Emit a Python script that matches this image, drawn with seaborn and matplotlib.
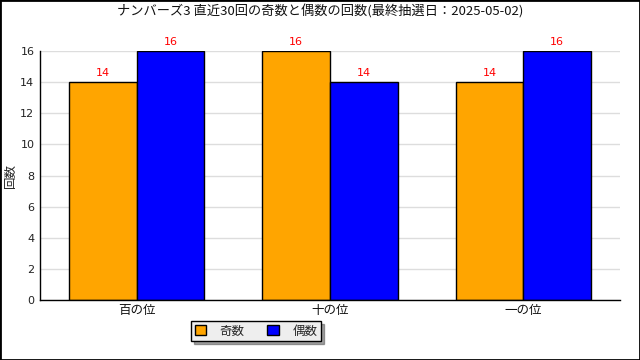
import matplotlib
matplotlib.use("Agg")
import matplotlib.pyplot as plt
import seaborn as sns
import pandas as pd
from matplotlib.patches import Patch, Rectangle

categories = ["百の位", "十の位", "一の位"]
series = ["奇数", "偶数"]
odd_counts = [14, 16, 14]
even_counts = [16, 14, 16]
yticks = [0, 2, 4, 6, 8, 10, 12, 14, 16]
title = "ナンバーズ3 直近30回の奇数と偶数の回数(最終抽選日：2025-05-02)"
colors = ["#ffa500", "#0000ff"]

df = pd.DataFrame({
    "pos": categories * 2,
    "kind": [series[0]] * 3 + [series[1]] * 3,
    "count": odd_counts + even_counts,
})

sns.set_theme(style="white")
plt.rcParams["font.family"] = ["Noto Sans CJK JP", "DejaVu Sans"]

fig = plt.figure(figsize=(6.4, 3.6), dpi=100)
ax = fig.add_axes([40 / 640, 60 / 360, 580 / 640, 249 / 360])

sns.barplot(data=df, x="pos", y="count", hue="kind", order=categories,
            hue_order=series, palette=colors, width=0.7, saturation=1,
            edgecolor="black", linewidth=1, ax=ax, legend=False)

for c in ax.containers:
    ax.bar_label(c, color="red", padding=3, fontsize=8, family="DejaVu Sans")

ax.set_xlim(-0.5, 2.5)
ax.set_ylim(0, 16)
ax.set_yticks(yticks)
ax.set_yticklabels([str(v) for v in yticks], fontsize=8, family="DejaVu Sans", color="#222222")
ax.yaxis.grid(True, color="#dddddd", linewidth=1)
ax.set_axisbelow(True)

ax.set_xticks([0, 1, 2])
ax.set_xticklabels(categories, fontsize=9, color="#111111")
ax.tick_params(axis="x", length=0, pad=3)
ax.set_xticks([0.5, 1.5, 2.5], minor=True)
ax.tick_params(axis="x", which="minor", direction="in", length=4, width=1, color="black")
ax.tick_params(axis="y", length=0, pad=4)
ax.set_xlabel("")
ax.set_ylabel("")

for s in ["top", "right"]:
    ax.spines[s].set_visible(False)
for s in ["left", "bottom"]:
    ax.spines[s].set_color("black")
    ax.spines[s].set_linewidth(1)

fig.text(10 / 640, 1 - 175 / 360, "回数", rotation=90, ha="center", va="center", fontsize=9)
fig.text(0.5, 1 - 12 / 360, title, ha="center", va="center", fontsize=9.5, color="#111111")

handles = [Patch(facecolor=colors[i], edgecolor="black", label=series[i]) for i in range(2)]
fig.legend(handles=handles, loc="center", bbox_to_anchor=(256 / 640, 1 - 331 / 360),
           ncol=2, frameon=True, fancybox=False, shadow=True, facecolor="#eeeeee",
           edgecolor="black", fontsize=9, handlelength=0.9, handleheight=0.9,
           columnspacing=1.8, handletextpad=1.1, borderpad=0.3)

fig.add_artist(Rectangle((0, 0), 1, 1, transform=fig.transFigure, fill=False,
                         edgecolor="black", linewidth=2))

fig.savefig("out.png", dpi=100)
